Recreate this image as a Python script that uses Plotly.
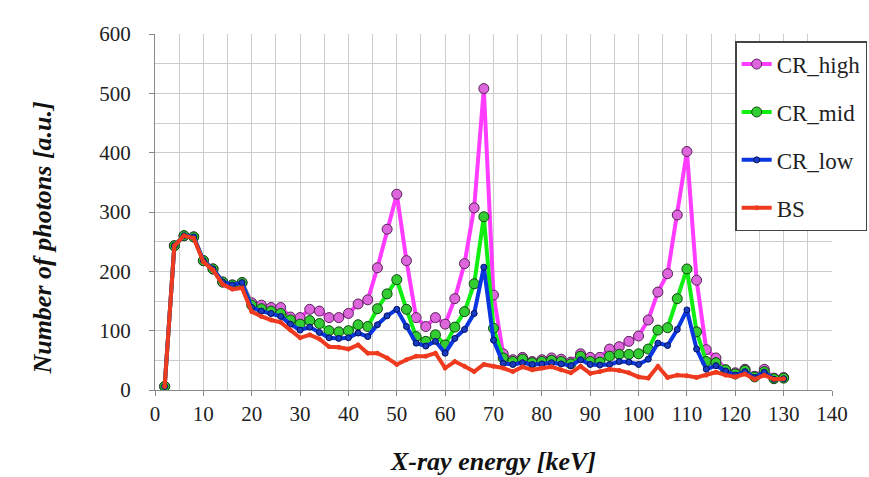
import plotly.graph_objects as go

energy_kev = [2, 4, 6, 8, 10, 12, 14, 16, 18, 20, 22, 24, 26, 28, 30, 32, 34, 36, 38, 40,
              42, 44, 46, 48, 50, 52, 54, 56, 58, 60, 62, 64, 66, 68, 70, 72, 74, 76, 78, 80,
              82, 84, 86, 88, 90, 92, 94, 96, 98, 100, 102, 104, 106, 108, 110, 112, 114, 116,
              118, 120, 122, 124, 126, 128, 130]

cr_high = [6, 243, 260, 258, 218, 204, 182, 177, 181, 147, 143, 139, 139, 123, 122, 136, 133, 122, 122, 129,
           145, 152, 206, 271, 330, 218, 122, 107, 122, 111, 154, 213, 307, 508, 160, 61, 51, 55, 48, 51,
           54, 52, 47, 61, 55, 55, 69, 73, 82, 91, 118, 165, 196, 295, 402, 185, 68, 54,
           34, 29, 35, 23, 35, 20, 21]

cr_mid = [6, 243, 260, 258, 218, 204, 182, 177, 181, 143, 137, 133, 129, 118, 111, 117, 112, 100, 98, 100,
          110, 107, 137, 162, 186, 136, 90, 82, 93, 76, 106, 132, 179, 292, 104, 54, 48, 52, 46, 48,
          50, 48, 44, 57, 48, 47, 57, 60, 60, 61, 69, 101, 105, 154, 204, 98, 48, 46,
          34, 27, 33, 22, 31, 19, 20]

cr_low = [6, 243, 260, 258, 218, 204, 182, 177, 181, 139, 133, 129, 124, 111, 101, 106, 97, 88, 87, 88,
          96, 90, 110, 125, 136, 107, 79, 74, 82, 62, 87, 102, 129, 207, 84, 45, 43, 46, 43, 44,
          46, 44, 41, 51, 43, 42, 43, 48, 47, 43, 52, 79, 75, 102, 135, 69, 35, 41,
          32, 25, 31, 21, 30, 18, 19]

bs = [6, 243, 260, 256, 216, 202, 178, 170, 172, 132, 124, 118, 114, 101, 88, 93, 86, 73, 72, 69,
      76, 62, 62, 54, 43, 51, 57, 57, 62, 37, 48, 40, 31, 43, 40, 37, 31, 39, 34, 37,
      39, 34, 29, 40, 28, 31, 35, 33, 29, 22, 20, 40, 21, 25, 24, 21, 25, 30,
      25, 22, 27, 18, 25, 18, 19]

x_ticks = [0, 10, 20, 30, 40, 50, 60, 70, 80, 90, 100, 110, 120, 130, 140]
y_ticks = [0, 100, 200, 300, 400, 500, 600]

series = [
    ("CR_high", cr_high, "#FF3CFF", "#DD66DD", "#552255", 10),
    ("CR_mid", cr_mid, "#11EE11", "#33CC33", "#114411", 10),
    ("CR_low", cr_low, "#0A36E0", "#1A3CC0", "#001060", 6),
    ("BS", bs, "#EE3A1E", "#EE3A1E", "#EE3A1E", 4),
]

fig = go.Figure()
for i, (name, vals, lc, fc, oc, ms) in enumerate(series):
    fig.add_trace(go.Scatter(
        x=energy_kev, y=vals, name=name, mode="lines+markers",
        line=dict(color=lc, width=4),
        marker=dict(size=ms, color=fc, line=dict(color=oc, width=1)),
        legendgroup=f"g{i}",
    ))

serif = "Times New Roman, Liberation Serif, Tinos, serif"
fig.update_layout(
    width=869, height=477,
    margin=dict(l=154.5, r=37, t=33.7, b=86.5, autoexpand=False),
    paper_bgcolor="white", plot_bgcolor="white",
    font=dict(family=serif, size=18, color="#222222"),
    showlegend=True,
    legend=dict(
        x=0.857, y=0.98, xanchor="left", yanchor="top",
        bgcolor="white", bordercolor="#444444", borderwidth=1.5,
        font=dict(family=serif, size=23, color="#222222"),
        tracegroupgap=15, itemwidth=30,
    ),
    annotations=[dict(
        text="Number of photons [a.u.]", textangle=-90,
        xref="paper", yref="paper", x=-0.166, y=0.427,
        xanchor="center", yanchor="middle", showarrow=False,
        font=dict(family=serif, size=26, color="#111111", weight="bold", style="italic"),
    )],
)
fig.update_xaxes(
    range=[0, 140], tickvals=x_ticks, ticktext=[str(v) for v in x_ticks],
    showgrid=True, gridcolor="#CCCCCC", gridwidth=1,
    minor=dict(tickvals=[v + 5 for v in x_ticks[:-1]], showgrid=True, gridcolor="#CCCCCC", gridwidth=1),
    showline=True, linecolor="#888888", linewidth=1,
    ticks="outside", ticklen=5, tickcolor="#888888",
    tickfont=dict(family=serif, size=21, color="#222222"),
    zeroline=False,
    title=dict(text="X-ray energy [keV]", standoff=26,
               font=dict(family=serif, size=26, color="#111111", weight="bold", style="italic")),
)
fig.update_yaxes(
    range=[0, 600], tickvals=y_ticks, ticktext=[str(v) for v in y_ticks],
    showgrid=True, gridcolor="#CCCCCC", gridwidth=1,
    minor=dict(tickvals=[v + 50 for v in y_ticks[:-1]], showgrid=True, gridcolor="#CCCCCC", gridwidth=1),
    showline=True, linecolor="#888888", linewidth=1,
    ticks="outside", ticklen=5, tickcolor="#888888",
    ticklabelstandoff=14,
    tickfont=dict(family=serif, size=21, color="#222222"),
    zeroline=False,
)

fig.write_html("out.html")
